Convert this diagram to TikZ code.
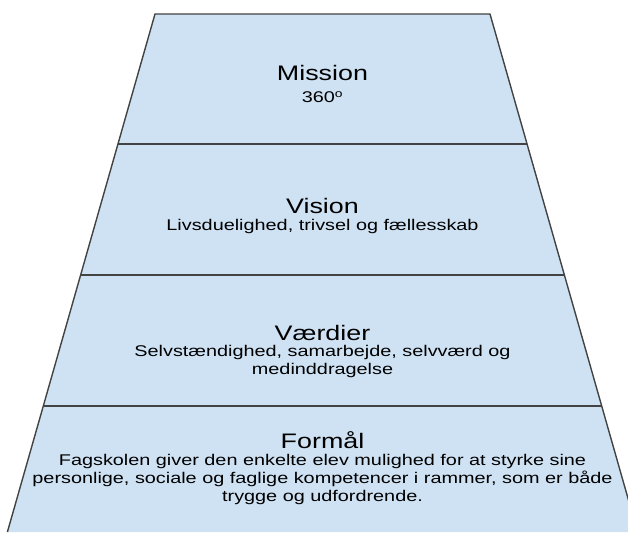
\documentclass[tikz,border=0pt]{standalone}
\usepackage{fontspec}
\setmainfont[FakeStretch=1.28]{Liberation Sans}
\usepackage{xcolor}
\definecolor{layerFill}{HTML}{CFE2F3}
\definecolor{layerDraw}{HTML}{434343}
\usetikzlibrary{positioning}
\tikzset{
  layer/.style={fill=layerFill, draw=layerDraw, line width=1.4pt, line join=round},
  divider/.style={draw=layerDraw, line width=1.4pt},
  title/.style={anchor=base, inner sep=0pt, font=\fontsize{21}{24}\selectfont},
  body/.style={anchor=north, inner sep=0pt, align=center, font=\fontsize{15.5}{18}\selectfont}
}

\begin{document}
\begin{tikzpicture}[x=1pt, y=-1pt]
\useasboundingbox (0,0) rectangle (628,532);
\clip (0,0) rectangle (628,532);
% corners of the pyramid
\coordinate (tl) at (155,14);
\coordinate (tr) at (490,14);
\coordinate (bl) at (7.4,532);
\coordinate (br) at (637.6,532);
\draw[layer] (bl) -- (tl) -- (tr) -- (br);
% dividers between the layers
\coordinate (d1l) at (117.9,144);
\coordinate (d1r) at (527.1,144);
\coordinate (d2l) at (80.6,275);
\coordinate (d2r) at (564.4,275);
\coordinate (d3l) at (43.3,406);
\coordinate (d3r) at (601.7,406);
\draw[divider] (d1l) -- (d1r);
\draw[divider] (d2l) -- (d2r);
\draw[divider] (d3l) -- (d3r);
% texts
\node[title] (mission) at (322.5,81) {Mission};
\node[body] (missionTxt) at (322.5,91) {360\textsuperscript{o}};
\node[title] (vision) at (322.5,213) {Vision};
\node[body] (visionTxt) at (322.5,219) {Livsduelighed, trivsel og fællesskab};
\node[title] (vaerdier) at (322.5,340) {Værdier};
\node[body] (vaerdierTxt) at (322.5,345) {Selvstændighed, samarbejde, selvværd og\\medinddragelse};
\node[title] (formaal) at (322.5,448) {Formål};
\node[body] (formaalTxt) at (322.5,454) {Fagskolen giver den enkelte elev mulighed for at styrke sine\\personlige, sociale og faglige kompetencer i rammer, som er både\\trygge og udfordrende.};
\end{tikzpicture}
\end{document}
